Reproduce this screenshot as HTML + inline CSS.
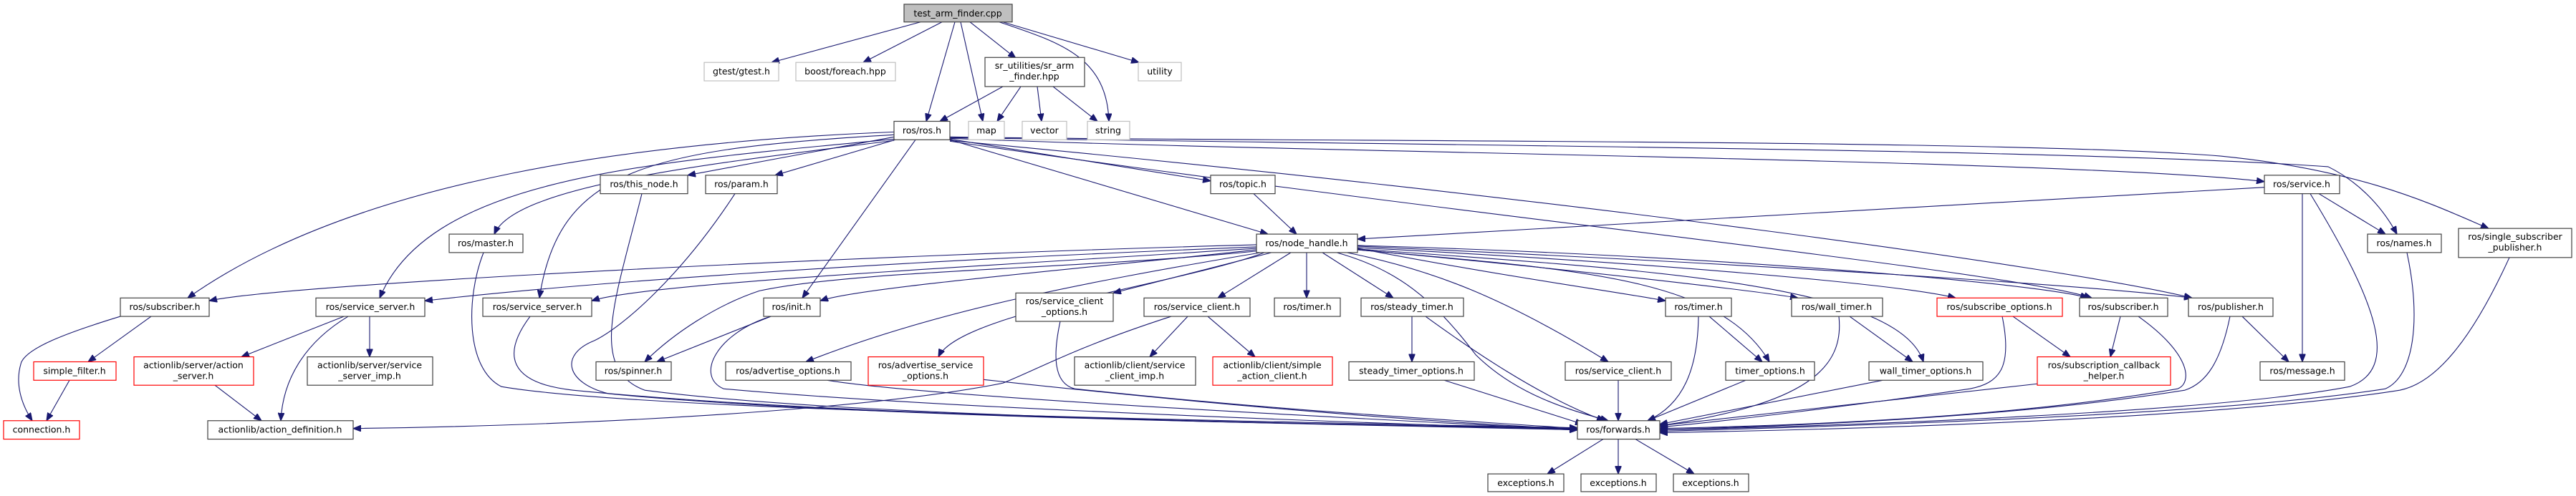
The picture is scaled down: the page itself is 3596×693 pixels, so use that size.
<!DOCTYPE html>
<html><head><meta charset="utf-8"><style>
html,body{margin:0;padding:0;background:#fff;}
svg{display:block;}
text{font-family:"DejaVu Sans","Liberation Sans",sans-serif;font-size:12.5px;fill:#000;text-anchor:middle;}
.n{fill:#fff;stroke:#404040;stroke-width:1.2;}
.r{fill:#fff;stroke:#ff0000;stroke-width:1.2;}
.g{fill:#fff;stroke:#bfbfbf;stroke-width:1.2;}
.e path{fill:none;stroke:#191970;stroke-width:1.1;marker-end:url(#a);}
</style></head><body>
<svg width="3596" height="693" viewBox="0 0 3596 693" xmlns="http://www.w3.org/2000/svg">
<defs><marker id="a" viewBox="0 0 10 8" refX="10" refY="4" markerWidth="11" markerHeight="9" markerUnits="userSpaceOnUse" orient="auto"><path d="M0,0 L10,4 L0,8 z" fill="#191970" stroke="#191970"/></marker></defs>
<g transform="scale(1,0.9912)">
<g class="e">
<path d="M1285,31 L1077,88"/>
<path d="M1315,31 L1205,88"/>
<path d="M1333,31 L1293,171"/>
<path d="M1341,31 L1372,171"/>
<path d="M1354,31 L1418,82"/>
<path d="M1395,31 C1480,60 1545,80 1548,171"/>
<path d="M1400,31 L1590,88"/>
<path d="M1400,122 L1312,171"/>
<path d="M1425,122 L1392,171"/>
<path d="M1448,122 L1454,171"/>
<path d="M1470,122 L1532,171"/>
<path d="M1248,193 L960,247"/>
<path d="M1250,197 L1082,247"/>
<path d="M1278,197 L1120,420"/>
<path d="M1326,196 L1690,255"/>
<path d="M1326,197 L1770,330"/>
<path d="M1326,195 C1800,215 2900,225 3161,256"/>
<path d="M1326,194 C2000,205 2900,210 3250,235 C3300,260 3330,300 3346,330"/>
<path d="M1326,193 C1700,200 2800,195 3100,220 C3300,240 3400,290 3474,322"/>
<path d="M1326,198 C2200,280 2900,380 3060,420"/>
<path d="M1326,199 C2000,300 2800,380 2920,420"/>
<path d="M1248,198 C1000,230 720,260 690,330"/>
<path d="M1248,196 C900,230 600,250 530,420"/>
<path d="M1248,190 C900,210 780,240 753,420"/>
<path d="M1248,186 C900,200 500,250 262,420"/>
<path d="M1750,273 L1810,330"/>
<path d="M3161,264 L1895,337"/>
<path d="M3237,273 L3330,330"/>
<path d="M3214,273 L3214,510"/>
<path d="M3225,273 C3320,430 3350,520 3280,545 C3100,580 2600,600 2317,606"/>
<path d="M3360,356 C3380,450 3370,530 3330,548 C3100,585 2600,600 2317,608"/>
<path d="M3503,363 C3450,480 3400,540 3350,550 C3100,590 2600,605 2317,610"/>
<path d="M675,356 C650,420 650,520 700,545 C900,580 1800,595 2202,603"/>
<path d="M896,273 C860,420 820,520 900,550 C1200,590 1900,598 2202,604"/>
<path d="M1026,273 C950,390 870,460 830,480 C780,500 790,540 850,555 C1200,590 1900,598 2202,605"/>
<path d="M740,446 C700,500 710,540 800,550 C1200,590 1900,598 2202,606"/>
<path d="M1076,446 C1000,470 970,530 1010,548 C1300,575 1900,596 2202,606"/>
<path d="M1076,446 L917,510"/>
<path d="M1155,536 C1300,560 1900,590 2202,606"/>
<path d="M1373,535 C1600,560 1900,590 2202,605"/>
<path d="M1480,453 C1470,500 1470,540 1500,548 C1800,580 2000,590 2202,604"/>
<path d="M1658,446 L1605,503"/>
<path d="M1686,446 L1752,503"/>
<path d="M1635,446 C1500,490 1450,520 1400,540 C1200,580 800,600 493,604"/>
<path d="M1754,345 C1200,360 400,400 292,424"/>
<path d="M1754,348 C1200,370 800,400 593,424"/>
<path d="M1754,350 C1300,380 900,400 826,424"/>
<path d="M1754,352 C1500,380 1200,405 1145,424"/>
<path d="M1754,354 C1500,380 1200,380 1060,410 C1000,430 940,470 900,510"/>
<path d="M1760,356 C1500,400 1300,440 1125,510"/>
<path d="M1765,356 C1650,400 1340,440 1310,503"/>
<path d="M1775,356 L1554,413"/>
<path d="M1802,356 L1700,420"/>
<path d="M1824,356 L1824,420"/>
<path d="M1846,356 L1945,420"/>
<path d="M1866,356 C1950,380 2000,420 2060,500 C2120,560 2200,580 2245,593"/>
<path d="M1880,356 C2000,380 2100,420 2245,510"/>
<path d="M1895,350 C2100,390 2250,410 2325,424"/>
<path d="M1895,352 C2200,380 2400,390 2470,510"/>
<path d="M1895,352 C2200,380 2450,410 2510,420"/>
<path d="M1895,351 C2300,380 2650,400 2685,510"/>
<path d="M1895,349 C2300,370 2650,400 2730,420"/>
<path d="M1895,346 C2400,360 2850,400 2915,420"/>
<path d="M1895,347 C2400,370 2900,400 3060,420"/>
<path d="M480,446 L337,503"/>
<path d="M486,446 C430,480 395,530 392,593"/>
<path d="M516,446 L516,503"/>
<path d="M300,543 L365,593"/>
<path d="M211,446 L123,510"/>
<path d="M168,446 C90,470 40,490 30,510 C20,540 30,570 45,593"/>
<path d="M97,536 L65,593"/>
<path d="M1971,446 L1971,510"/>
<path d="M1990,446 C2050,490 2150,560 2240,593"/>
<path d="M2016,536 L2210,598"/>
<path d="M2371,446 C2370,520 2350,570 2300,593"/>
<path d="M2386,446 L2460,510"/>
<path d="M2259,536 L2259,593"/>
<path d="M2437,536 L2300,593"/>
<path d="M2567,446 C2575,520 2520,570 2317,600"/>
<path d="M2582,446 L2670,510"/>
<path d="M2628,536 L2317,598"/>
<path d="M2810,446 L2890,503"/>
<path d="M2795,446 C2810,520 2790,540 2750,548 C2600,570 2400,595 2317,602"/>
<path d="M2960,446 L2946,503"/>
<path d="M2985,446 C3060,500 3060,540 3040,548 C2800,590 2500,600 2317,604"/>
<path d="M3130,446 L3195,510"/>
<path d="M3113,446 C3100,510 3080,540 3050,550 C2800,590 2500,600 2317,606"/>
<path d="M2844,541 L2317,600"/>
<path d="M2238,619 L2160,668"/>
<path d="M2259,619 L2259,668"/>
<path d="M2283,619 L2365,668"/>
</g>
<rect x="1262" y="6" width="151" height="25" fill="#bfbfbf" stroke="#404040" stroke-width="1.2"/><text x="1337" y="23">test_arm_finder.cpp</text>
<rect class="g" x="983" y="88" width="104" height="26"/><text x="1035" y="105">gtest/gtest.h</text>
<rect class="g" x="1111" y="88" width="139" height="26"/><text x="1180" y="105">boost/foreach.hpp</text>
<rect class="n" x="1375" y="81" width="139" height="41"/><text x="1444" y="97">sr_utilities/sr_arm</text><text x="1444" y="112">_finder.hpp</text>
<rect class="g" x="1589" y="88" width="60" height="26"/><text x="1619" y="105">utility</text>
<rect class="n" x="1248" y="171" width="78" height="26"/><text x="1287" y="188">ros/ros.h</text>
<rect class="g" x="1352" y="171" width="50" height="26"/><text x="1377" y="188">map</text>
<rect class="g" x="1427" y="171" width="62" height="26"/><text x="1458" y="188">vector</text>
<rect class="g" x="1518" y="171" width="59" height="26"/><text x="1547" y="188">string</text>
<rect class="n" x="838" y="247" width="122" height="26"/><text x="899" y="264">ros/this_node.h</text>
<rect class="n" x="985" y="247" width="100" height="26"/><text x="1035" y="264">ros/param.h</text>
<rect class="n" x="1690" y="247" width="90" height="26"/><text x="1735" y="264">ros/topic.h</text>
<rect class="n" x="3161" y="247" width="105" height="26"/><text x="3213" y="264">ros/service.h</text>
<rect class="n" x="627" y="330" width="103" height="26"/><text x="678" y="347">ros/master.h</text>
<rect class="n" x="1754" y="330" width="141" height="26"/><text x="1824" y="347">ros/node_handle.h</text>
<rect class="n" x="3305" y="330" width="103" height="26"/><text x="3356" y="347">ros/names.h</text>
<rect class="n" x="3432" y="322" width="158" height="41"/><text x="3511" y="338">ros/single_subscriber</text><text x="3511" y="353">_publisher.h</text>
<rect class="n" x="168" y="420" width="124" height="26"/><text x="230" y="437">ros/subscriber.h</text>
<rect class="n" x="441" y="420" width="152" height="26"/><text x="517" y="437">ros/service_server.h</text>
<rect class="n" x="674" y="420" width="152" height="26"/><text x="750" y="437">ros/service_server.h</text>
<rect class="n" x="1066" y="420" width="79" height="26"/><text x="1105" y="437">ros/init.h</text>
<rect class="n" x="1418" y="413" width="136" height="40"/><text x="1486" y="429">ros/service_client</text><text x="1486" y="444">_options.h</text>
<rect class="n" x="1597" y="420" width="148" height="26"/><text x="1671" y="437">ros/service_client.h</text>
<rect class="n" x="1779" y="420" width="92" height="26"/><text x="1825" y="437">ros/timer.h</text>
<rect class="n" x="1900" y="420" width="143" height="26"/><text x="1971" y="437">ros/steady_timer.h</text>
<rect class="n" x="2325" y="420" width="92" height="26"/><text x="2371" y="437">ros/timer.h</text>
<rect class="n" x="2501" y="420" width="127" height="26"/><text x="2564" y="437">ros/wall_timer.h</text>
<rect class="r" x="2704" y="420" width="175" height="26"/><text x="2791" y="437">ros/subscribe_options.h</text>
<rect class="n" x="2903" y="420" width="123" height="26"/><text x="2964" y="437">ros/subscriber.h</text>
<rect class="n" x="3055" y="420" width="118" height="26"/><text x="3114" y="437">ros/publisher.h</text>
<rect class="r" x="47" y="510" width="115" height="26"/><text x="104" y="527">simple_filter.h</text>
<rect class="r" x="187" y="503" width="167" height="40"/><text x="270" y="519">actionlib/server/action</text><text x="270" y="534">_server.h</text>
<rect class="n" x="429" y="503" width="175" height="40"/><text x="516" y="519">actionlib/server/service</text><text x="516" y="534">_server_imp.h</text>
<rect class="n" x="832" y="510" width="105" height="26"/><text x="884" y="527">ros/spinner.h</text>
<rect class="n" x="1013" y="510" width="175" height="26"/><text x="1100" y="527">ros/advertise_options.h</text>
<rect class="r" x="1212" y="503" width="161" height="40"/><text x="1292" y="519">ros/advertise_service</text><text x="1292" y="534">_options.h</text>
<rect class="n" x="1500" y="503" width="169" height="40"/><text x="1584" y="519">actionlib/client/service</text><text x="1584" y="534">_client_imp.h</text>
<rect class="r" x="1693" y="503" width="167" height="40"/><text x="1776" y="519">actionlib/client/simple</text><text x="1776" y="534">_action_client.h</text>
<rect class="n" x="1883" y="510" width="175" height="26"/><text x="1970" y="527">steady_timer_options.h</text>
<rect class="n" x="2185" y="510" width="148" height="26"/><text x="2259" y="527">ros/service_client.h</text>
<rect class="n" x="2409" y="510" width="124" height="26"/><text x="2471" y="527">timer_options.h</text>
<rect class="n" x="2609" y="510" width="159" height="26"/><text x="2688" y="527">wall_timer_options.h</text>
<rect class="r" x="2844" y="503" width="186" height="40"/><text x="2937" y="519">ros/subscription_callback</text><text x="2937" y="534">_helper.h</text>
<rect class="n" x="3155" y="510" width="118" height="26"/><text x="3214" y="527">ros/message.h</text>
<rect class="r" x="5" y="593" width="106" height="26"/><text x="58" y="610">connection.h</text>
<rect class="n" x="290" y="593" width="203" height="26"/><text x="391" y="610">actionlib/action_definition.h</text>
<rect class="n" x="2202" y="593" width="115" height="26"/><text x="2259" y="610">ros/forwards.h</text>
<rect class="n" x="2077" y="668" width="106" height="25"/><text x="2130" y="685">exceptions.h</text>
<rect class="n" x="2207" y="668" width="105" height="25"/><text x="2259" y="685">exceptions.h</text>
<rect class="n" x="2336" y="668" width="105" height="25"/><text x="2388" y="685">exceptions.h</text>
</g>
</svg>
</body></html>
